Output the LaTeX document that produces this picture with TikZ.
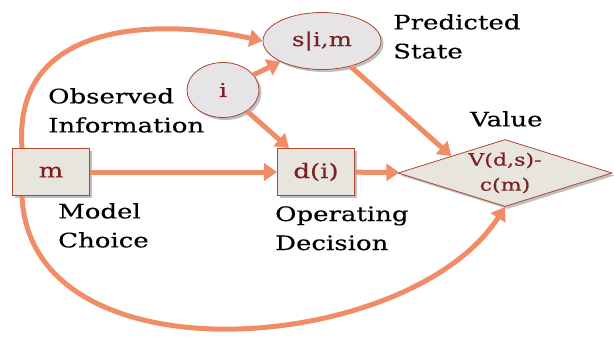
\documentclass[tikz,border=0pt]{standalone}
\usepackage{fontspec}
\setmainfont{DejaVu Serif}[FakeStretch=1.3,FakeBold=0.4]
\usetikzlibrary{shapes.geometric,arrows.meta,shadows}
\definecolor{arr}{HTML}{F08C66}
\definecolor{edge}{HTML}{A84A30}
\definecolor{boxfill}{HTML}{E8E4DE}
\definecolor{ellfill}{HTML}{E6E4E6}
\definecolor{intext}{HTML}{7A2222}
\tikzset{
  x=1pt,y=-1pt,
  shad/.style={drop shadow={shadow xshift=2.5pt,shadow yshift=-2.5pt,fill=black!50,opacity=0.5}},
  sqbox/.style={draw=edge,line width=0.8pt,fill=boxfill,minimum width=77pt,minimum height=47pt,shad,text=intext,font=\fontsize{20}{22}\selectfont},
  ell/.style={ellipse,draw=edge,line width=0.8pt,fill=ellfill,shad,text=intext,font=\fontsize{19}{21}\selectfont,inner sep=0pt},
  dia/.style={diamond,draw=edge,line width=0.8pt,fill=boxfill,shad,text=intext,font=\fontsize{17}{25}\selectfont,aspect=3.2,inner sep=0pt,minimum width=214pt,minimum height=67pt,align=center},
  lbl/.style={font=\fontsize{20}{29}\selectfont,align=left,anchor=north west,inner sep=0pt},
  con/.style={draw=arr,line width=5pt,-{Triangle[length=13pt,width=17pt]}}
}
\begin{document}
\begin{tikzpicture}
\useasboundingbox (0,0) rectangle (614,341);
\node[sqbox] (m) at (51,172) {m};
\node[sqbox] (d) at (316,172) {d(i)};
\node[ell,minimum width=72pt,minimum height=55pt] (i) at (223,90) {i};
\node[ell,minimum width=118pt,minimum height=57pt] (s) at (322,41) {s|i,m};
\node[dia] (v) at (505,173) {V(d,s)-\\c(m)};
\node[lbl] (pl) at (393,14) {Predicted\\State};
\node[lbl] (vl) at (470,111) {Value};
\node[lbl] (ol) at (48,88) {Observed\\Information};
\node[lbl] (ml) at (58,203) {Model\\Choice};
\node[lbl] (dl) at (275,206) {Operating\\Decision};
\coordinate (mt) at (22,148);
\coordinate (mb) at (22,196);
\draw[con] (m) -- (d);
\draw[con] (d) -- (v);
\draw[con] (i) -- (s);
\draw[con] (i) -- (d);
\draw[con] (s) -- (v.north west);
\draw[con] (mt) .. controls (12,15) and (170,20) .. (s.west);
\draw[con] (mb) .. controls (30,385) and (410,355) .. (v.south);
\end{tikzpicture}
\end{document}
